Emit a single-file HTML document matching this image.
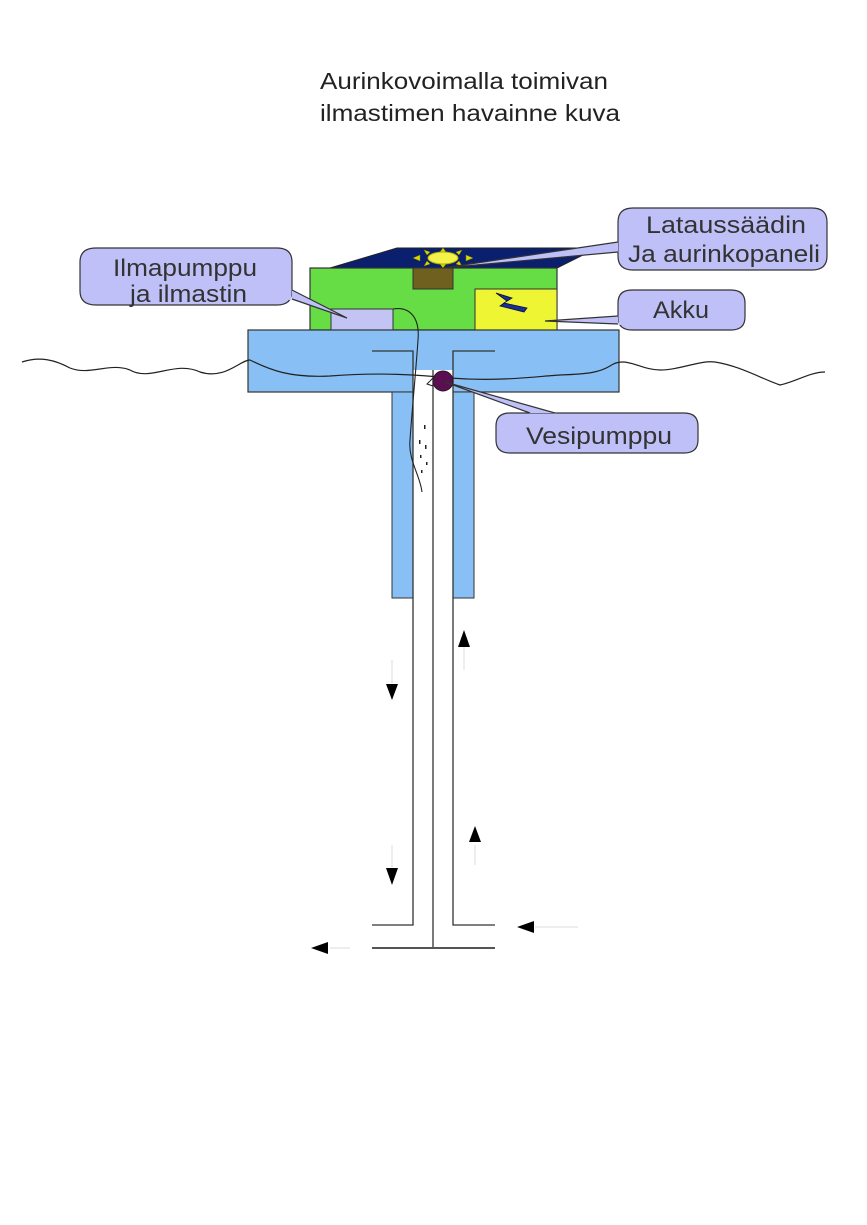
<!DOCTYPE html>
<html><head><meta charset="utf-8"><style>html,body{margin:0;padding:0;background:#fff}svg{display:block}</style></head>
<body>
<svg width="867" height="1225" viewBox="0 0 867 1225" xmlns="http://www.w3.org/2000/svg" font-family="Liberation Sans, sans-serif">
<text x="320" y="89" font-size="23" fill="#222" textLength="288" lengthAdjust="spacingAndGlyphs">Aurinkovoimalla toimivan</text>
<text x="320" y="121" font-size="23" fill="#222" textLength="300" lengthAdjust="spacingAndGlyphs">ilmastimen havainne kuva</text>

<polygon points="330,268 397,248 597,248 557,268" fill="#0a1f6e" stroke="#222" stroke-width="1"/>
<rect x="310" y="268" width="247" height="62" fill="#66dd44" stroke="#333" stroke-width="1.2"/>
<rect x="413" y="268" width="40" height="21" fill="#6f6020" stroke="#333"/>
<rect x="475" y="289" width="82" height="41" fill="#eef533" stroke="#333"/>
<path d="M496,293 L512,298 L504,303 L527,308 L524,312 L500,306 L507,301 Z" fill="#1a2f8f" stroke="#0a1040" stroke-width="0.8"/>
<rect x="331" y="309" width="62" height="21" fill="#c4c4f4" stroke="#333"/>
<g fill="#d8d800" stroke="#808000" stroke-width="0.5">
<polygon points="413,258 420,255 420,261"/><polygon points="473,258 466,255 466,261"/>
<polygon points="443,248 440,252 446,252"/><polygon points="443,268 440,264 446,264"/>
<polygon points="424,250 430,252 427,255"/><polygon points="462,250 456,252 459,255"/>
<polygon points="424,266 430,264 427,261"/><polygon points="462,266 456,264 459,261"/>
</g>
<ellipse cx="443" cy="258" rx="15" ry="6" fill="#f3f34a" stroke="#b0b000"/>

<rect x="248" y="330" width="371" height="62" fill="#88c0f5" stroke="#333" stroke-width="1.2"/>
<rect x="392" y="392" width="21" height="206" fill="#88c0f5" stroke="#333"/>
<rect x="453" y="392" width="21" height="206" fill="#88c0f5" stroke="#333"/>
<rect x="413" y="370" width="40" height="228" fill="#fff"/>
<g stroke="#333" stroke-width="1.3" fill="none">
<path d="M372,351 H413 V925 H372"/>
<path d="M495,351 H453 V925 H495"/>
<line x1="433" y1="370" x2="433" y2="948"/>
</g>
<line x1="372" y1="948" x2="495" y2="948" stroke="#555" stroke-width="2"/>

<path d="M22,362 C40,356 55,360 70,368 C90,376 110,362 130,370 C150,382 175,360 200,372 C225,380 240,360 250,360 C270,370 290,378 330,376 C380,372 420,375 450,378 C500,382 540,376 560,375 C590,374 600,372 610,366 C625,355 640,370 660,370 C680,370 700,360 715,362 C740,366 760,378 780,385 C795,382 810,372 825,372" fill="none" stroke="#222" stroke-width="1.2"/>
<path d="M393,309 C410,306 420,318 418,340 C416,370 412,410 410,440 C408,460 420,475 422,492" fill="none" stroke="#222" stroke-width="1.1"/>
<g fill="#222"><rect x="424" y="425" width="1.5" height="4"/><rect x="419" y="440" width="1.5" height="4"/><rect x="425" y="445" width="1.5" height="4"/><rect x="420" y="455" width="1.5" height="3"/><rect x="426" y="462" width="1.5" height="3"/><rect x="421" y="470" width="1.5" height="3"/></g>
<circle cx="443" cy="381" r="10" fill="#5a1050" stroke="#301030"/>
<path d="M427,384 L433,378 V386 Z" fill="none" stroke="#222"/>

<g fill="#c0c0f8" stroke="#333" stroke-width="1.2">
<path d="M96,248 H277 Q292,248 292,262 V291 Q292,305 277,305 H96 Q80,305 80,291 V262 Q80,248 96,248 Z"/>
<path d="M633,208 H812 Q827,208 827,222 V256 Q827,270 812,270 H633 Q618,270 618,256 V222 Q618,208 633,208 Z"/>
<path d="M632,290 H731 Q745,290 745,303 V317 Q745,330 731,330 H632 Q618,330 618,317 V303 Q618,290 632,290 Z"/>
<path d="M510,413 H684 Q698,413 698,426 V440 Q698,453 684,453 H510 Q496,453 496,440 V426 Q496,413 510,413 Z"/>
</g>
<g fill="#c0c0f8" stroke="#333" stroke-width="1.2">
<path d="M292,290 L347,318 L292,299"/>
<path d="M618,242 L443,268 L618,252"/>
<path d="M618,316 L545,321 L618,324"/>
<path d="M530,413 L445,382 L555,413"/>
</g>
<g fill="#c0c0f8"><rect x="286" y="289" width="5.4" height="11"/><rect x="618.6" y="241" width="6" height="12"/><rect x="618.6" y="315" width="6" height="10"/><rect x="529" y="413.6" width="28" height="5"/></g>
<g font-size="24" fill="#333">
<text x="113" y="276" textLength="144" lengthAdjust="spacingAndGlyphs">Ilmapumppu</text>
<text x="130" y="302" textLength="117" lengthAdjust="spacingAndGlyphs">ja ilmastin</text>
<text x="646" y="233" textLength="160" lengthAdjust="spacingAndGlyphs">Lataussäädin</text>
<text x="628" y="262" textLength="192" lengthAdjust="spacingAndGlyphs">Ja aurinkopaneli</text>
<text x="653" y="318" textLength="56" lengthAdjust="spacingAndGlyphs">Akku</text>
<text x="526" y="444" textLength="146" lengthAdjust="spacingAndGlyphs">Vesipumppu</text>
</g>

<g stroke="#ddd" stroke-width="1">
<line x1="392" y1="660" x2="392" y2="690"/><line x1="392" y1="845" x2="392" y2="875"/>
<line x1="464" y1="645" x2="464" y2="670"/><line x1="475" y1="845" x2="475" y2="865"/>
<line x1="535" y1="927" x2="578" y2="927"/><line x1="330" y1="948" x2="350" y2="948"/>
</g>
<g fill="#000">
<polygon points="386,684 398,684 392,700"/>
<polygon points="386,868 398,868 392,885"/>
<polygon points="458,647 470,647 464,630"/>
<polygon points="469,842 481,842 475,826"/>
<polygon points="534,921 534,933 517,927"/>
<polygon points="328,942 328,954 311,948"/>
</g>
</svg>
</body></html>
